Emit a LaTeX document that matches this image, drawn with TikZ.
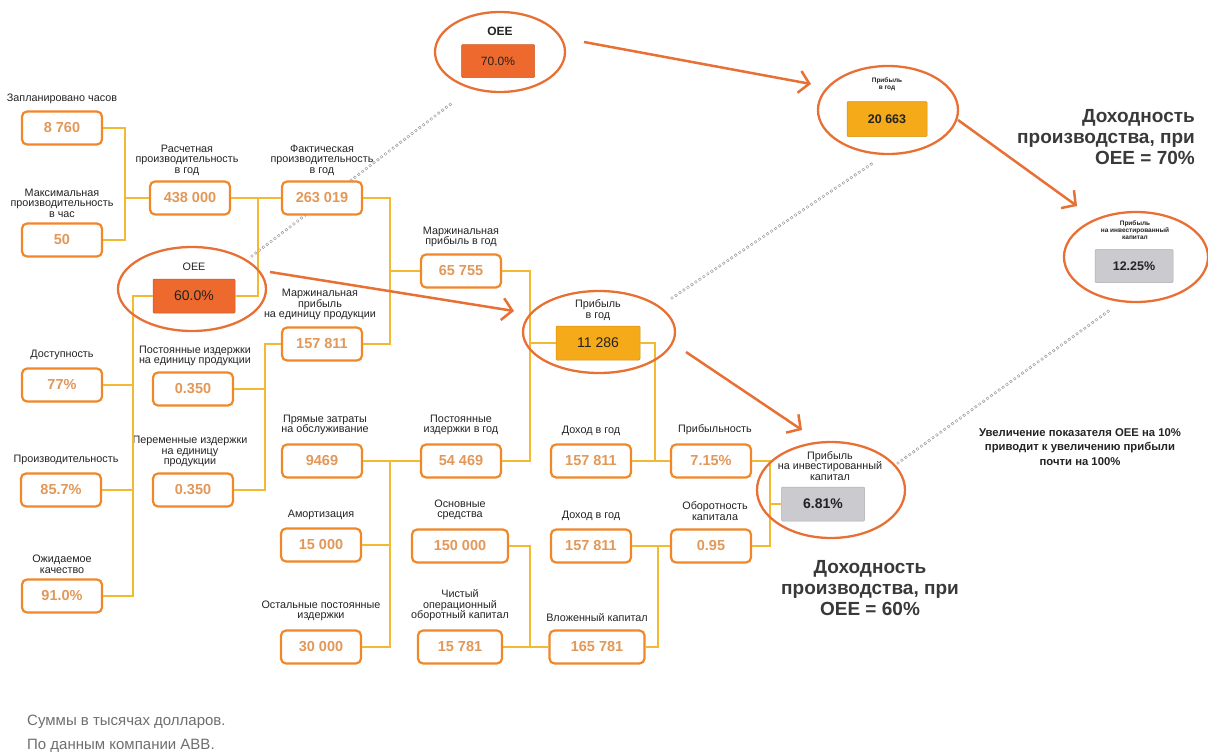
\documentclass[tikz,border=0pt]{standalone}
\usepackage{fontspec}
\setmainfont{Liberation Sans}
\usetikzlibrary{arrows.meta,shapes.geometric}
\definecolor{boxor}{RGB}{240,135,40}
\definecolor{connc}{RGB}{242,185,50}
\definecolor{valtx}{RGB}{226,152,88}
\definecolor{ellc}{RGB}{232,112,52}
\definecolor{labtx}{RGB}{35,35,35}
\definecolor{oeefill}{RGB}{238,105,45}
\definecolor{amber}{RGB}{245,170,25}
\definecolor{grayfill}{RGB}{202,202,207}
\definecolor{chainc}{RGB}{150,150,150}
\definecolor{foot}{RGB}{110,110,110}
\tikzset{
  valbox/.style={draw=boxor, line width=2.2pt, rounded corners=5pt, fill=white,
    minimum width=80pt, minimum height=33pt, inner sep=0pt, text=valtx,
    font=\fontsize{14.5}{15}\selectfont\bfseries},
  fillbox/.style={draw=#1!85!black, line width=0.5pt, fill=#1, rounded corners=1pt,
    minimum width=82pt, minimum height=34pt, inner sep=0pt, text=labtx},
  lab/.style={text=labtx, font=\fontsize{10.8}{10.5}\selectfont, align=center, inner sep=0pt, anchor=south},
  tinylab/.style={text=labtx, font=\fontsize{6.5}{7}\selectfont\bfseries, align=center, inner sep=0pt, anchor=south},
  connline/.style={draw=connc, line width=2pt},
  ring/.style={shape=ellipse, draw=ellc, line width=2.3pt, inner sep=0pt},
  bigarrow/.style={draw=ellc, line width=2.5pt, -{Straight Barb[length=10pt,width=22pt,line width=2.5pt]}},
  chainout/.style={draw=chainc, line width=3.4pt, dash pattern=on 0pt off 4.8pt, line cap=round},
  chainin/.style={draw=white, line width=1.8pt, dash pattern=on 0pt off 4.8pt, line cap=round},
  title/.style={text=labtx!90!white, font=\fontsize{19}{21}\selectfont\bfseries, inner sep=0pt},
}
\begin{document}
\begin{tikzpicture}[x=1pt,y=-1pt]
\useasboundingbox (0,0) rectangle (1208,755);

% chain lines (behind everything)
\coordinate (c1a) at (252,256); \coordinate (c1b) at (452,103);
\coordinate (c2a) at (672,298); \coordinate (c2b) at (873,163);
\coordinate (c3a) at (898,463); \coordinate (c3b) at (1110,310);
\foreach \a/\b in {c1a/c1b,c2a/c2b,c3a/c3b}{
  \draw[chainout] (\a) -- (\b);
  \draw[chainin] (\a) -- (\b);
}

% boxes
\node[valbox] (b1) at (62,128) {8 760};
\node[valbox] (b2) at (62,240) {50};
\node[valbox] (b3) at (62,385) {77\%};
\node[valbox] (b4) at (61,490) {85.7\%};
\node[valbox] (b5) at (62,596) {91.0\%};
\node[valbox] (b6) at (190,198) {438 000};
\node[fillbox=oeefill, font=\fontsize{14}{14}\selectfont] (oeeA) at (194,296) {60.0\%};
\node[valbox] (b8) at (193,389) {0.350};
\node[valbox] (b9) at (193,490) {0.350};
\node[valbox] (b10) at (322,198) {263 019};
\node[valbox] (b11) at (322,344) {157 811};
\node[valbox] (b12) at (322,461) {9469};
\node[valbox] (b13) at (321,545) {15 000};
\node[valbox] (b14) at (321,647) {30 000};
\node[valbox] (b15) at (461,271) {65 755};
\node[valbox] (b16) at (461,461) {54 469};
\node[valbox, minimum width=96pt] (b17) at (460,546) {150 000};
\node[valbox, minimum width=84pt] (b18) at (460,647) {15 781};
\node[fillbox=amber, minimum width=84pt, font=\fontsize{14}{14}\selectfont] (profA) at (598,343) {11 286};
\node[valbox] (b20) at (591,461) {157 811};
\node[valbox] (b21) at (591,546) {157 811};
\node[valbox, minimum width=95pt] (b22) at (597,647) {165 781};
\node[valbox] (b23) at (711,461) {7.15\%};
\node[valbox] (b24) at (711,546) {0.95};
\node[fillbox=grayfill, minimum width=83pt, font=\fontsize{14}{14}\selectfont\bfseries] (roicA) at (823,504) {6.81\%};

\node[fillbox=oeefill, minimum width=73pt, minimum height=33pt, font=\fontsize{12}{12}\selectfont] (oeeB) at (498,61) {70.0\%};
\node[fillbox=amber, minimum width=80pt, minimum height=35pt, font=\fontsize{12.5}{13}\selectfont\bfseries] (profB) at (887,119) {20 663};
\node[fillbox=grayfill, minimum width=78pt, minimum height=33pt, font=\fontsize{12.5}{13}\selectfont\bfseries] (roicB) at (1134,266) {12.25\%};

% labels
\node[lab] (l1) at ([yshift=6pt]b1.north) {Запланировано часов};
\node[lab] (l2) at ([yshift=5pt]b2.north) {Максимальная\\производительность\\в час};
\node[lab] (l3) at ([yshift=7pt]b3.north) {Доступность};
\node[lab] (l4) at ([xshift=5pt,yshift=7pt]b4.north) {Производительность};
\node[lab] (l5) at ([yshift=5pt]b5.north) {Ожидаемое\\качество};
\node[lab] (l6) at ([xshift=-3pt,yshift=5pt]b6.north) {Расчетная\\производительность\\в год};
\node[lab] (l7) at ([yshift=8pt]oeeA.north) {OEE};
\node[lab] (l8) at ([xshift=2pt,yshift=5pt]b8.north) {Постоянные издержки\\на единицу продукции};
\node[lab] (l9) at ([xshift=-3pt,yshift=5pt]b9.north) {Переменные издержки\\на единицу\\продукции};
\node[lab] (l10) at ([yshift=5pt]b10.north) {Фактическая\\производительность\\в год};
\node[lab] (l11) at ([xshift=-2pt,yshift=6pt]b11.north) {Маржинальная\\прибыль\\на единицу продукции};
\node[lab] (l12) at ([xshift=3pt,yshift=8pt]b12.north) {Прямые затраты\\на обслуживание};
\node[lab] (l13) at ([yshift=7pt]b13.north) {Амортизация};
\node[lab] (l14) at ([yshift=8pt]b14.north) {Остальные постоянные\\издержки};
\node[lab] (l15) at ([yshift=6pt]b15.north) {Маржинальная\\прибыль в год};
\node[lab] (l16) at ([yshift=8pt]b16.north) {Постоянные\\издержки в год};
\node[lab] (l17) at ([yshift=8pt]b17.north) {Основные\\средства};
\node[lab] (l18) at ([yshift=8pt]b18.north) {Чистый\\операционный\\оборотный капитал};
\node[lab] (l19) at ([yshift=5pt]profA.north) {Прибыль\\в год};
\node[lab] (l20) at ([yshift=8pt]b20.north) {Доход в год};
\node[lab] (l21) at ([yshift=8pt]b21.north) {Доход в год};
\node[lab] (l22) at ([yshift=8pt]b22.north) {Вложенный капитал};
\node[lab] (l23) at ([xshift=4pt,yshift=8pt]b23.north) {Прибыльность};
\node[lab] (l24) at ([xshift=4pt,yshift=8pt]b24.north) {Оборотность\\капитала};
\node[lab] (l25) at ([xshift=7pt,yshift=6pt]roicA.north) {Прибыль\\на инвестированный\\капитал};
\node[lab, font=\fontsize{12}{12}\selectfont\bfseries] (l26) at ([xshift=2pt,yshift=8pt]oeeB.north) {OEE};
\node[tinylab] (l27) at ([yshift=10pt]profB.north) {Прибыль\\в год};
\node[tinylab] (l28) at ([xshift=1pt,yshift=9pt]roicB.north) {Прибыль\\на инвестированный\\капитал};

% connectors
\coordinate (j1) at (125,198);
\draw[connline] (b1.east) -| (j1) |- (b2.east);
\draw[connline] (j1) -- (b6.west);
\draw[connline] (b6.east) -- (b10.west);
\coordinate (j2) at (258,198);
\draw[connline] (j2) |- (oeeA.east);
\coordinate (j3) at (133,296);
\draw[connline] (oeeA.west) -- (j3) |- (b5.east);
\draw[connline] (b3.east) -- (b3.east -| j3);
\draw[connline] (b4.east) -- (b4.east -| j3);
\coordinate (j4) at (390,271);
\draw[connline] (b10.east) -| (j4) |- (b11.east);
\draw[connline] (j4) -- (b15.west);
\coordinate (j5) at (265,389);
\draw[connline] (b11.west) -| (j5) |- (b9.east);
\draw[connline] (b8.east) -- (j5);
\coordinate (j6) at (530,343);
\draw[connline] (b15.east) -| (j6) |- (b16.east);
\draw[connline] (j6) -- (profA.west);
\coordinate (j7) at (390,461);
\draw[connline] (b12.east) -- (b16.west);
\draw[connline] (j7) |- (b14.east);
\draw[connline] (b13.east) -- (b13.east -| j7);
\coordinate (j8) at (655,461);
\draw[connline] (profA.east) -| (j8);
\draw[connline] (b20.east) -- (b23.west);
\coordinate (j9) at (530,647);
\draw[connline] (b17.east) -| (j9);
\draw[connline] (b18.east) -- (b22.west);
\coordinate (j10) at (658,546);
\draw[connline] (b21.east) -- (b24.west);
\draw[connline] (b22.east) -| (j10);
\coordinate (j11) at (770,504);
\draw[connline] (b23.east) -| (j11) |- (b24.east);
\draw[connline] (j11) -- (roicA.west);

% rings
\node[ring, minimum width=148pt, minimum height=84pt] (e1) at (192,289) {};
\node[ring, minimum width=152pt, minimum height=82pt] (e2) at (599,332) {};
\node[ring, minimum width=148pt, minimum height=96pt] (e3) at (831,490) {};
\node[ring, minimum width=130pt, minimum height=80pt] (e4) at (500,52) {};
\node[ring, minimum width=140pt, minimum height=88pt] (e5) at (888,110) {};
\node[ring, minimum width=144pt, minimum height=90pt] (e6) at (1136,257) {};

% arrows
\coordinate (a1s) at (584,42); \coordinate (a1e) at (811,84);
\coordinate (a2s) at (958,120); \coordinate (a2e) at (1077,206);
\coordinate (a3s) at (270,272); \coordinate (a3e) at (514,311);
\coordinate (a4s) at (686,352); \coordinate (a4e) at (802,430);
\draw[bigarrow] (a1s) -- (a1e);
\draw[bigarrow] (a2s) -- (a2e);
\draw[bigarrow] (a3s) -- (a3e);
\draw[bigarrow] (a4s) -- (a4e);

% texts
\node[title, align=center] (t60) at (870,588) {Доходность\\производства, при\\OEE = 60\%};
\node[title, align=right, anchor=east] (t70) at (1195,137) {Доходность\\производства, при\\OEE = 70\%};
\node[text=labtx, font=\fontsize{11.3}{14.5}\selectfont\bfseries, align=center, inner sep=0pt] (note) at (1080,447) {Увеличение показателя OEE на 10\%\\приводит к увеличению прибыли\\почти на 100\%};
\node[text=foot, font=\fontsize{15}{15}\selectfont, anchor=west, inner sep=0pt] (f1) at (27,722) {Суммы в тысячах долларов.};
\node[text=foot, font=\fontsize{15}{15}\selectfont, anchor=west, inner sep=0pt] (f2) at (27,746) {По данным компании ABB.};
\end{tikzpicture}
\end{document}
